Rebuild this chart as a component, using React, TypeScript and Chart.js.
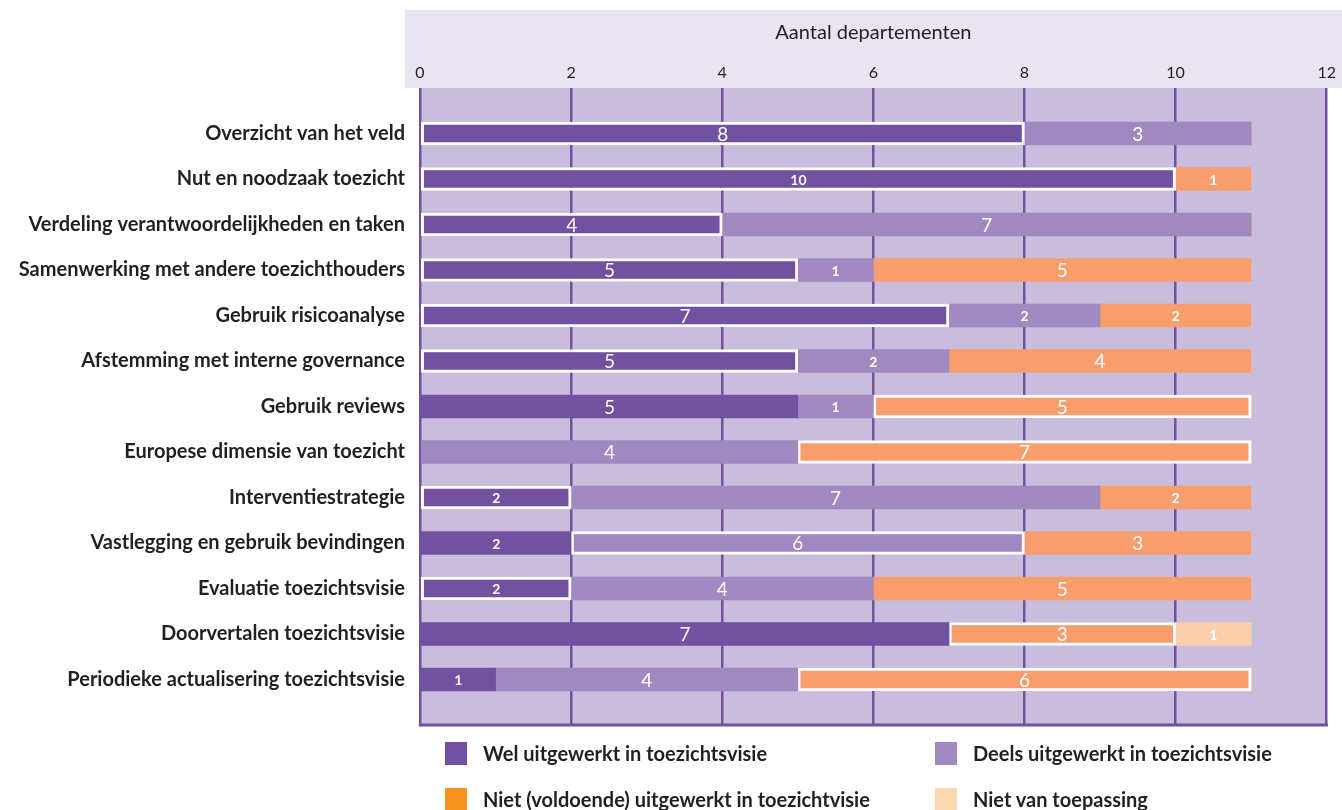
import React, { useEffect, useRef } from "react";
import { Chart, registerables } from "chart.js";

Chart.register(...registerables);

const categories = [
  "Overzicht van het veld",
  "Nut en noodzaak toezicht",
  "Verdeling verantwoordelijkheden en taken",
  "Samenwerking met andere toezichthouders",
  "Gebruik risicoanalyse",
  "Afstemming met interne governance",
  "Gebruik reviews",
  "Europese dimensie van toezicht",
  "Interventiestrategie",
  "Vastlegging en gebruik bevindingen",
  "Evaluatie toezichtsvisie",
  "Doorvertalen toezichtsvisie",
  "Periodieke actualisering toezichtsvisie",
];

const seriesNames = [
  "Wel uitgewerkt in toezichtsvisie",
  "Deels uitgewerkt in toezichtsvisie",
  "Niet (voldoende) uitgewerkt in toezichtvisie",
  "Niet van toepassing",
];

// bar lengths as drawn in the original
const wel = [8, 10, 4, 5, 7, 5, 5, 0, 2, 2, 2, 7, 1];
const deels = [3, 0, 7, 1, 2, 2, 1, 5, 7, 6, 4, 0, 4];
const niet = [0, 1, 0, 5, 2, 4, 5, 6, 2, 3, 5, 3, 6];
const nvt = [0, 0, 0, 0, 0, 0, 0, 0, 0, 0, 0, 1, 0];

// numbers printed on the bars where the original prints a different value
// (key: "series-row")
const printedOverrides: Record<string, string> = { "1-7": "4", "2-7": "7" };

// which segments carry a white outline in the original
const welOutline = [1, 1, 1, 1, 1, 1, 0, 0, 1, 0, 1, 0, 0];
const deelsOutline = [0, 0, 0, 0, 0, 0, 0, 0, 0, 1, 0, 0, 0];
const nietOutline = [0, 0, 0, 0, 0, 0, 1, 1, 0, 0, 0, 1, 1];
const nvtOutline = [0, 0, 0, 0, 0, 0, 0, 0, 0, 0, 0, 0, 0];

const xTicks = [0, 2, 4, 6, 8, 10, 12];

const barColors = ["#7251a0", "#a088c0", "#f89e6c", "#fbcfab"];
const legendColors = ["#7251a0", "#a088c0", "#f7941d", "#fcd6b0"];

const FONT = "Lato, 'Open Sans', sans-serif";
const TEXT = "#231f20";

export default function App() {
  const ref = useRef<HTMLCanvasElement | null>(null);

  useEffect(() => {
    if (!ref.current) return;
    const labels = ["", ...categories, ""];
    const pad = (a: any[]) => [null, ...a, null];
    const series = [wel, deels, niet, nvt];
    const outlines = [welOutline, deelsOutline, nietOutline, nvtOutline];

    const datasets = series.map((s, i) => ({
      label: seriesNames[i],
      data: pad(s),
      backgroundColor: barColors[i],
      borderColor: pad(outlines[i].map((o) => (o ? "#ffffff" : barColors[i]))),
      borderWidth: pad(outlines[i].map((o, j) => (o && s[j] ? 3 : 0))),
      borderSkipped: false,
      barThickness: 23,
      stack: "a",
    }));

    const bgPlugin = {
      id: "bgPlugin",
      beforeDraw(chart: any) {
        const { ctx, chartArea } = chart;
        ctx.save();
        ctx.fillStyle = "#e8e4f0";
        ctx.fillRect(405, 10, chart.width - 405, chartArea.top - 10);
        ctx.fillStyle = "#c8bddc";
        ctx.fillRect(chartArea.left, chartArea.top, chartArea.right - chartArea.left, chartArea.bottom - chartArea.top);
        ctx.restore();
      },
      afterDraw(chart: any) {
        const { ctx, chartArea } = chart;
        ctx.save();
        ctx.strokeStyle = "#7251a0";
        ctx.lineWidth = 3;
        ctx.beginPath();
        ctx.moveTo(chartArea.left - 1.25, chartArea.bottom);
        ctx.lineTo(chartArea.right + 1.25, chartArea.bottom);
        ctx.stroke();
        ctx.restore();
      },
    };

    const labelPlugin = {
      id: "labelPlugin",
      afterDatasetsDraw(chart: any) {
        const { ctx } = chart;
        ctx.save();
        ctx.fillStyle = "#ffffff";
        ctx.textAlign = "center";
        ctx.textBaseline = "middle";
        chart.data.datasets.forEach((ds: any, i: number) => {
          const meta = chart.getDatasetMeta(i);
          meta.data.forEach((bar: any, j: number) => {
            const v = ds.data[j];
            if (!v) return;
            const key = `${i}-${j - 1}`;
            const txt = printedOverrides[key] ?? String(v);
            const p = bar.getProps(["x", "y", "base"], true);
            const cx = (p.x + p.base) / 2;
            const n = Number(txt);
            const small = n <= 2 || n === 10;
            ctx.font = small ? `bold 14px ${FONT}` : `19px ${FONT}`;
            ctx.fillText(txt, cx, p.y + 1);
          });
        });
        ctx.restore();
      },
    };

    const chart = new Chart(ref.current, {
      type: "bar",
      data: { labels, datasets: datasets as any },
      options: {
        indexAxis: "y",
        responsive: false,
        animation: false,
        maintainAspectRatio: false,
        layout: { padding: { top: 10, right: 12, bottom: 85, left: 0 } },
        plugins: {
          legend: { display: false },
          tooltip: { enabled: false },
          title: { display: false },
        },
        scales: {
          x: {
            position: "top",
            min: 0,
            max: 12,
            stacked: true,
            afterBuildTicks(scale: any) {
              scale.ticks = xTicks.map((v) => ({ value: v }));
            },
            afterFit(scale: any) {
              scale.height = 78;
            },
            ticks: {
              color: TEXT,
              font: { family: FONT, size: 16 },
              padding: 6,
            },
            grid: {
              color: "#7251a0",
              lineWidth: 2.5,
              drawTicks: false,
            },
            border: { display: false },
            title: {
              display: true,
              text: "Aantal departementen",
              color: TEXT,
              font: { family: FONT, size: 20 },
              padding: { top: 11, bottom: 0 },
            },
          },
          y: {
            stacked: true,
            offset: false,
            afterFit(scale: any) {
              scale.width = 420;
            },
            ticks: {
              autoSkip: false,
              color: TEXT,
              font: { family: FONT, size: 20, weight: "bold" },
              padding: 15,
            },
            grid: { display: false, drawTicks: false },
            border: { display: false },
          },
        },
      },
      plugins: [bgPlugin, labelPlugin],
    });
    return () => chart.destroy();
  }, []);

  const legendPos = [
    { left: 445, top: 741 },
    { left: 935, top: 741 },
    { left: 445, top: 787 },
    { left: 935, top: 787 },
  ];

  return (
    <div style={{ position: "absolute", left: 0, top: 0, width: 1342, height: 810, background: "#fff", overflow: "hidden" }}>
      <canvas ref={ref} width={1342} height={810} style={{ display: "block", width: 1342, height: 810 }} />
      {seriesNames.map((n, i) => (
        <div
          key={n}
          style={{
            position: "absolute",
            left: legendPos[i].left,
            top: legendPos[i].top,
            display: "flex",
            alignItems: "center",
            fontFamily: FONT,
            fontWeight: "bold",
            fontSize: 20,
            color: TEXT,
            whiteSpace: "nowrap",
          }}
        >
          <span style={{ display: "inline-block", width: 22, height: 23, background: legendColors[i], marginRight: 16 }} />
          <span>{n}</span>
        </div>
      ))}
    </div>
  );
}
